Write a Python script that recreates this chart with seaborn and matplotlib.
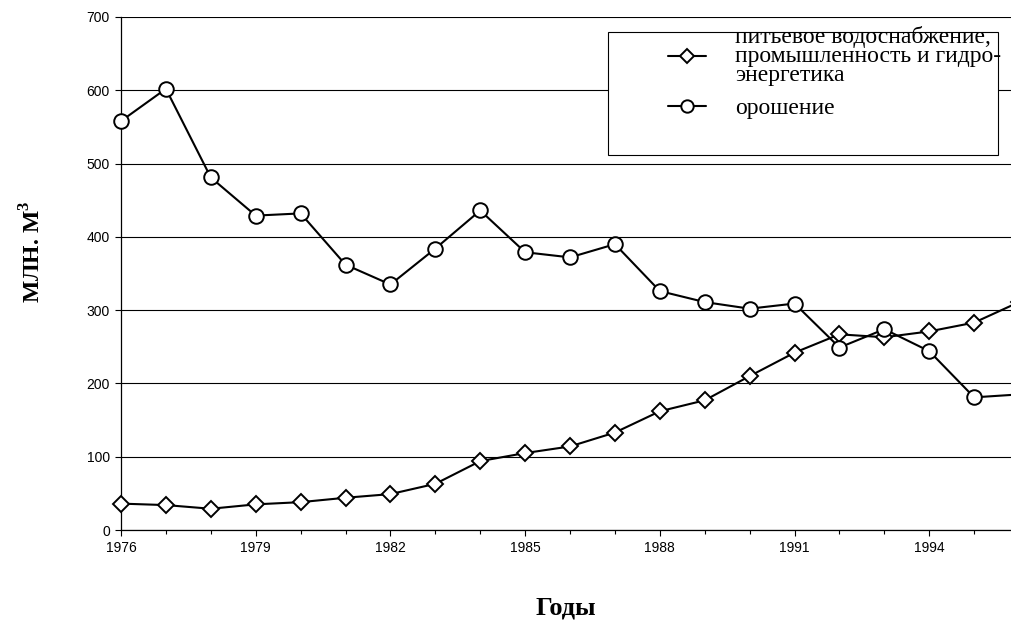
import matplotlib
matplotlib.use("Agg")
import matplotlib.pyplot as plt
from matplotlib.patches import Rectangle
from matplotlib.ticker import MultipleLocator
import seaborn as sns
import pandas as pd

years = list(range(1976, 1997))
# питьевое водоснабжение, промышленность и гидроэнергетика
industry = [36, 34, 29, 35, 38, 44, 49, 63, 94, 105, 114, 133, 162, 177,
            210, 242, 267, 263, 271, 283, 311]
# орошение
irrigation = [558, 602, 481, 429, 432, 362, 335, 384, 436, 379, 372, 390,
              326, 311, 302, 309, 249, 274, 244, 181, 185]
year_ticks = list(range(1976, 1997, 3))
label_ind = "питьевое водоснабжение,\nпромышленность и гидро-\nэнергетика"
label_irr = "орошение"

sns.set_theme(style="white")
plt.rcParams["font.family"] = ["Liberation Sans", "DejaVu Sans"]
plt.rcParams["text.color"] = "black"
plt.rcParams["axes.labelcolor"] = "black"
plt.rcParams["mathtext.fontset"] = "custom"
plt.rcParams["mathtext.bf"] = "Liberation Serif:bold"
plt.rcParams["mathtext.rm"] = "Liberation Serif"

df = pd.DataFrame({"year": years, "ind": industry, "irr": irrigation})

fig = plt.figure(figsize=(10.11, 6.21), dpi=100)
ax = fig.add_axes([121 / 1011, 91 / 621, 890 / 1011, 513 / 621])

sns.lineplot(data=df, x="year", y="ind", ax=ax, color="black", lw=1.5,
             marker="D", ms=8.5, mfc="white", mec="black", mew=1.4,
             label=label_ind, zorder=3, clip_on=False)
sns.lineplot(data=df, x="year", y="irr", ax=ax, color="black", lw=1.5,
             marker="o", ms=10.5, mfc="white", mec="black", mew=1.4,
             label=label_irr, zorder=3, clip_on=False)

ax.set_xlim(1976, 1995.82)
ax.set_ylim(0, 700)
ax.yaxis.set_major_locator(MultipleLocator(100))
ax.set_xticks(year_ticks)
ax.set_xticklabels([str(y) for y in year_ticks])
ax.set_xticks(years[:-1], minor=True)
ax.grid(axis="y", color="black", lw=0.8)
ax.set_axisbelow(True)
for s in ["top", "right"]:
    ax.spines[s].set_visible(False)
for s in ["left", "bottom"]:
    ax.spines[s].set_color("black")
    ax.spines[s].set_linewidth(0.9)
ax.tick_params(axis="both", which="both", direction="out", colors="black",
               labelsize=10, length=4, width=0.8, pad=4, bottom=True, left=True)
ax.tick_params(axis="x", which="minor", length=3)

ax.set_xlabel("Годы", fontsize=19, fontweight="bold", family="Liberation Serif",
              labelpad=30, color="black")
ax.set_ylabel("")
fig.text(33 / 1011, 1 - 252 / 621, r"МЛН. М$^{\mathbf{3}}$", rotation=90,
         ha="center", va="center", fontsize=17, fontweight="bold",
         family="Liberation Serif", color="black")

leg = ax.legend(loc="upper left", bbox_to_anchor=(668 / 1011, 1 - 26 / 621),
                bbox_transform=fig.transFigure, frameon=False,
                prop={"family": "Liberation Serif", "size": 17},
                handlelength=1.6, handletextpad=1.25, labelspacing=0.5,
                borderpad=0, borderaxespad=0, markerscale=0.85)
for t in leg.get_texts():
    t.set_linespacing(0.88)
    t.set_color("black")
ax.add_patch(Rectangle((608 / 1011, 1 - 155 / 621), 390 / 1011, 123 / 621,
                       transform=fig.transFigure, facecolor="white",
                       edgecolor="black", lw=0.8, zorder=4))
leg.set_zorder(5)

fig.savefig("out.png", dpi=100)
